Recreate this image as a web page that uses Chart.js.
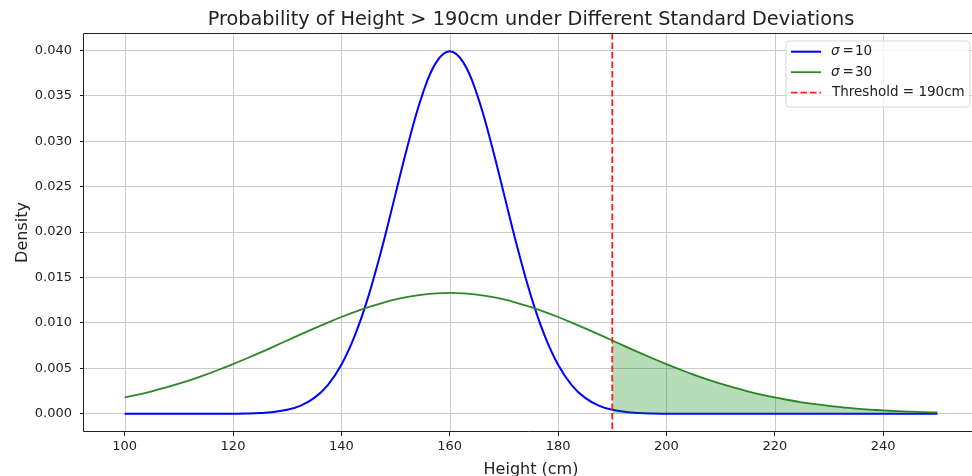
<!DOCTYPE html>
<html><head><meta charset="utf-8">
<script src="https://cdn.jsdelivr.net/npm/chart.js@4.4.0/dist/chart.umd.min.js"></script>
<style>html,body{margin:0;padding:0;background:#fff;overflow:hidden;width:972px;height:476px}canvas{display:block}</style>
</head><body>
<canvas id="c" width="972" height="476"></canvas>
<script>
// ---- data ----
const heights = [100,102.5,105,107.5,110,112.5,115,117.5,120,122.5,125,127.5,130,132.5,135,137.5,140,142.5,145,147.5,150,152.5,155,157.5,160,162.5,165,167.5,170,172.5,175,177.5,180,182.5,185,187.5,190,192.5,195,197.5,200,202.5,205,207.5,210,212.5,215,217.5,220,222.5,225,227.5,230,232.5,235,237.5,240,242.5,245,247.5,250];
const sigma10 = [0,0,0,0,0,0,0,0,0.000013,0.000035,0.000087,0.00020,0.00044,0.00091,0.00175,0.00317,0.00540,0.00863,0.01295,0.01826,0.02420,0.03011,0.03521,0.03867,0.03989,0.03867,0.03521,0.03011,0.02420,0.01826,0.01295,0.00863,0.00540,0.00317,0.00175,0.00091,0.00044,0.00020,0.000087,0.000035,0.000013,0,0,0,0,0,0,0,0,0,0,0,0,0,0,0,0,0,0,0,0];
const sigma30 = [0.00180,0.00212,0.00248,0.00288,0.00332,0.00380,0.00432,0.00488,0.00547,0.00609,0.00673,0.00740,0.00807,0.00874,0.00940,0.01004,0.01065,0.01122,0.01174,0.01219,0.01258,0.01289,0.01311,0.01325,0.01330,0.01325,0.01311,0.01289,0.01258,0.01219,0.01174,0.01122,0.01065,0.01004,0.00940,0.00874,0.00807,0.00740,0.00673,0.00609,0.00547,0.00488,0.00432,0.00380,0.00332,0.00288,0.00248,0.00212,0.00180,0.00152,0.00127,0.00106,0.00087,0.00072,0.00058,0.00047,0.00038,0.00030,0.00024,0.00019,0.00015];
const threshold = 190;
const xTicks = [100,120,140,160,180,200,220,240];
const yTicks = [0,0.005,0.010,0.015,0.020,0.025,0.030,0.035,0.040];
const seriesLabels = ['10','30'];
const thresholdLabel = 'Threshold = 190cm';
const titleText = 'Probability of Height > 190cm under Different Standard Deviations';
const xLabel = 'Height (cm)';
const yLabel = 'Density';

// ---- styles ----
const FONT = "'DejaVu Sans', sans-serif";
const BLUE = '#0000ff';
const GREEN = '#2e862a';
const RED = '#ff1a1a';
const GRID = '#cbcbcb';
const TITLE_CENTER_X = 531;   // centre of the full (partly cropped) axes box

const pts = ys => heights.map((x,i)=>({x:x, y:ys[i]}));
const tail = pts(sigma30).filter(p => p.x >= threshold);

const overlay = {
  id:'overlay',
  beforeDatasetsDraw(chart){
    const {ctx, chartArea:a, scales} = chart;
    ctx.save();
    ctx.strokeStyle = GRID; ctx.lineWidth = 1;
    xTicks.forEach(v=>{
      const px = Math.round(scales.x.getPixelForValue(v)) + 0.5;
      ctx.beginPath(); ctx.moveTo(px, a.top); ctx.lineTo(px, a.bottom); ctx.stroke();
    });
    ctx.restore();
  },
  afterDatasetsDraw(chart){
    const {ctx, chartArea:a, scales} = chart;
    const tx = scales.x.getPixelForValue(threshold);
    ctx.save();
    ctx.strokeStyle = RED; ctx.lineWidth = 1.8; ctx.setLineDash([6.5,3]);
    ctx.beginPath(); ctx.moveTo(tx, a.top); ctx.lineTo(tx, a.bottom); ctx.stroke();
    ctx.restore();
  },
  afterDraw(chart){
    const {ctx, chartArea:a} = chart;
    ctx.save();
    // frame (left, top, bottom; the right spine lies outside the window)
    ctx.strokeStyle = '#222'; ctx.lineWidth = 1;
    const L = Math.round(a.left)-0.5, T = Math.round(a.top)+0.5, B = Math.round(a.bottom)-0.5, R = a.right+2;
    ctx.beginPath();
    ctx.moveTo(R, T); ctx.lineTo(L, T); ctx.lineTo(L, B); ctx.lineTo(R, B);
    ctx.stroke();
    // title
    ctx.fillStyle = '#222';
    ctx.font = '19.3px ' + FONT; ctx.textAlign = 'center'; ctx.textBaseline = 'alphabetic';
    ctx.fillText(titleText, TITLE_CENTER_X, 25);
    // x label
    ctx.font = '16px ' + FONT;
    ctx.fillText(xLabel, TITLE_CENTER_X, 473.5);
    // y label
    ctx.save();
    ctx.translate(27, (a.top+a.bottom)/2);
    ctx.rotate(-Math.PI/2);
    ctx.fillText(yLabel, 0, 0);
    ctx.restore();
    // legend
    const bx = 786, by = 41, bw = 184, bh = 66, r = 3;
    ctx.beginPath();
    ctx.moveTo(bx+r, by); ctx.lineTo(bx+bw-r, by); ctx.quadraticCurveTo(bx+bw, by, bx+bw, by+r);
    ctx.lineTo(bx+bw, by+bh-r); ctx.quadraticCurveTo(bx+bw, by+bh, bx+bw-r, by+bh);
    ctx.lineTo(bx+r, by+bh); ctx.quadraticCurveTo(bx, by+bh, bx, by+bh-r);
    ctx.lineTo(bx, by+r); ctx.quadraticCurveTo(bx, by, bx+r, by);
    ctx.closePath();
    ctx.fillStyle = 'rgba(255,255,255,0.8)'; ctx.fill();
    ctx.strokeStyle = '#d8d8d8'; ctx.lineWidth = 1; ctx.stroke();
    const rows = [
      {c:BLUE, dash:[], y:51.7, sig:seriesLabels[0]},
      {c:GREEN, dash:[], y:72.2, sig:seriesLabels[1]},
      {c:RED, dash:[6.5,3], y:92.7, text:thresholdLabel}
    ];
    rows.forEach(rw=>{
      ctx.strokeStyle = rw.c; ctx.lineWidth = rw.c===BLUE?2:1.8; ctx.setLineDash(rw.dash);
      ctx.beginPath(); ctx.moveTo(791, rw.y); ctx.lineTo(821, rw.y); ctx.stroke();
      ctx.setLineDash([]);
      ctx.fillStyle = '#222'; ctx.textAlign = 'left'; ctx.textBaseline = 'middle';
      if (rw.sig){
        ctx.font = 'italic 13.5px ' + FONT; ctx.fillText('σ', 831, rw.y);
        ctx.font = '13.5px ' + FONT; ctx.fillText('=', 842.5, rw.y);
        ctx.fillText(rw.sig, 855, rw.y);
      } else {
        ctx.font = '13.5px ' + FONT; ctx.fillText(rw.text, 832, rw.y);
      }
    });
    ctx.restore();
  }
};

new Chart(document.getElementById('c').getContext('2d'), {
  type:'line',
  data:{datasets:[
    {label:'tail', data:tail, fill:'origin', backgroundColor:'rgba(0,128,0,0.28)', borderWidth:0, pointRadius:0, tension:0.4},
    {label:'σ = 30', data:pts(sigma30), borderColor:GREEN, borderWidth:1.8, pointRadius:0, fill:false, tension:0.4},
    {label:'σ = 10', data:pts(sigma10), borderColor:BLUE, borderWidth:2, pointRadius:0, fill:false, tension:0.4}
  ]},
  options:{
    responsive:false, animation:false, devicePixelRatio:1,
    layout:{padding:{top:33, left:0, right:0, bottom:0}},
    plugins:{legend:{display:false}, title:{display:false}, tooltip:{enabled:false}},
    scales:{
      x:{type:'linear', min:92.5, max:256.39,
        afterBuildTicks:s=>{s.ticks = xTicks.map(v=>({value:v}));},
        afterFit:s=>{s.height = 44;},
        grid:{drawOnChartArea:false, color:GRID, lineWidth:1, tickColor:'#222', tickLength:4, drawTicks:true},
        border:{display:false},
        ticks:{font:{family:FONT, size:13}, color:'#222', padding:3, maxRotation:0, autoSkip:false, callback:v=>String(v)}
      },
      y:{type:'linear', min:-0.002, max:0.0419,
        afterBuildTicks:s=>{s.ticks = yTicks.map(v=>({value:v}));},
        afterFit:s=>{s.width = 84;},
        grid:{color:GRID, lineWidth:1, tickColor:'#222', tickLength:4, drawTicks:true},
        border:{display:false},
        ticks:{font:{family:FONT, size:13}, color:'#222', padding:8, autoSkip:false, callback:v=>v.toFixed(3)}
      }
    }
  },
  plugins:[overlay]
});
</script>
</body></html>
